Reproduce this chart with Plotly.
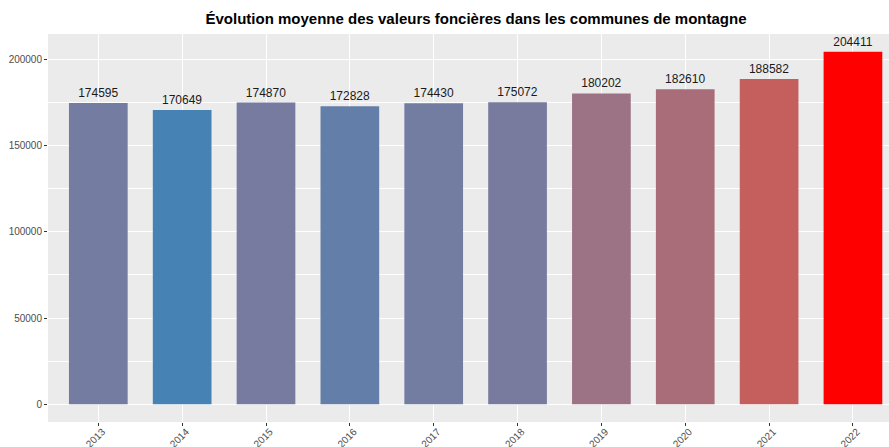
import plotly.graph_objects as go
import numpy as np

years = ["2013", "2014", "2015", "2016", "2017", "2018", "2019", "2020", "2021", "2022"]
values = [174595, 170649, 174870, 172828, 174430, 175072, 180202, 182610, 188582, 204411]
y_ticks = [0, 50000, 100000, 150000, 200000]
title = "Évolution moyenne des valeurs foncières dans les communes de montagne"

LOW = (70, 130, 180)   # steelblue
HIGH = (255, 0, 0)     # red


def srgb_to_lab(rgb):
    c = np.array(rgb, dtype=float) / 255.0
    c = np.where(c <= 0.04045, c / 12.92, ((c + 0.055) / 1.055) ** 2.4)
    M = np.array([[0.4124564, 0.3575761, 0.1804375],
                  [0.2126729, 0.7151522, 0.0721750],
                  [0.0193339, 0.1191920, 0.9503041]])
    xyz = M @ c
    wp = np.array([0.95047, 1.0, 1.08883])
    t = xyz / wp
    f = np.where(t > (6 / 29) ** 3, np.cbrt(t), t / (3 * (6 / 29) ** 2) + 4 / 29)
    return np.array([116 * f[1] - 16, 500 * (f[0] - f[1]), 200 * (f[1] - f[2])])


def lab_to_srgb(lab):
    L, a, b = lab
    fy = (L + 16) / 116
    fx = fy + a / 500
    fz = fy - b / 200
    f = np.array([fx, fy, fz])
    t = np.where(f > 6 / 29, f ** 3, 3 * (6 / 29) ** 2 * (f - 4 / 29))
    wp = np.array([0.95047, 1.0, 1.08883])
    xyz = t * wp
    Minv = np.array([[3.2404542, -1.5371385, -0.4985314],
                     [-0.9692660, 1.8760108, 0.0415560],
                     [0.0556434, -0.2040259, 1.0572252]])
    c = Minv @ xyz
    c = np.clip(c, 0, 1)
    c = np.where(c <= 0.0031308, 12.92 * c, 1.055 * c ** (1 / 2.4) - 0.055)
    return tuple(int(round(v * 255)) for v in np.clip(c, 0, 1))


lab_lo, lab_hi = srgb_to_lab(LOW), srgb_to_lab(HIGH)
vmin, vmax = min(values), max(values)
colors = []
for v in values:
    t = (v - vmin) / (vmax - vmin)
    r, g, b = lab_to_srgb(lab_lo + t * (lab_hi - lab_lo))
    colors.append(f"rgb({r},{g},{b})")

fig = go.Figure(go.Bar(
    x=years, y=values,
    marker=dict(color=colors, line=dict(width=0)),
    width=0.7,
    text=[str(v) for v in values],
    textposition="outside",
    textfont=dict(family="Liberation Sans, Arial, sans-serif", size=12, color="#1a1a1a"),
    cliponaxis=False,
))

rng = vmax - 0
fig.update_layout(
    width=889, height=447,
    margin=dict(l=48, r=0, t=34, b=25),
    paper_bgcolor="white",
    plot_bgcolor="#EBEBEB",
    showlegend=False,
    title=dict(
        text=title,
        x=(476 - 48) / 841, xref="paper", xanchor="center",
        y=0.958, yref="container", yanchor="middle",
        font=dict(family="Liberation Sans, Arial, sans-serif", size=15, color="black", weight="bold"),
    ),
    font=dict(family="Liberation Sans, Arial, sans-serif"),
)
fig.update_xaxes(
    type="category",
    range=[-0.6, 9.43],
    showgrid=True, gridcolor="white", gridwidth=1.1,
    ticks="outside", ticklen=3, tickcolor="#333333", tickwidth=1,
    tickangle=-45,
    ticklabelstandoff=-4,
    ticklabelshift=4,
    tickfont=dict(size=10, color="#4D4D4D"),
    showline=False, zeroline=False,
    automargin=False,
)
fig.update_yaxes(
    range=[-0.05 * rng, 1.05 * rng],
    tickvals=y_ticks,
    ticktext=[str(v) for v in y_ticks],
    showgrid=True, gridcolor="white", gridwidth=1.1,
    minor=dict(dtick=25000, tick0=0, showgrid=True, gridcolor="white", gridwidth=0.5, ticks=""),
    ticks="outside", ticklen=3, tickcolor="#333333", tickwidth=1,
    tickfont=dict(size=10, color="#4D4D4D"),
    showline=False, zeroline=False,
    automargin=False,
)

fig.write_html(
    "out.html",
    config={"displayModeBar": False},
    post_script="document.body.style.margin='0';document.body.style.overflow='hidden';",
)
